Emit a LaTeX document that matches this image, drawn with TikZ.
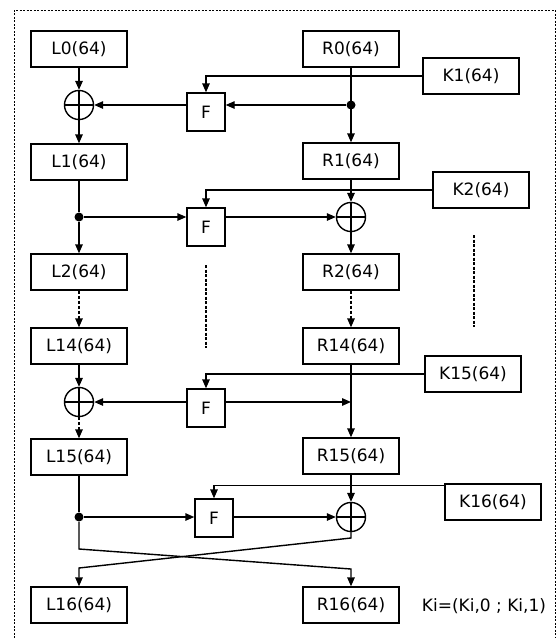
\documentclass[tikz,border=0pt]{standalone}
\usepackage{fontspec}
\setmainfont{DejaVu Sans}
\usetikzlibrary{arrows.meta}

\tikzset{
  box/.style={draw, rectangle, minimum width=96pt, minimum height=36pt, inner sep=0pt},
  ffun/.style={draw, rectangle, minimum width=38pt, minimum height=38pt, inner sep=0pt},
  xor/.style={draw, circle, minimum size=29pt, inner sep=0pt,
    path picture={\draw (path picture bounding box.north) -- (path picture bounding box.south)
                        (path picture bounding box.west) -- (path picture bounding box.east);}},
  dot/.style={circle, fill, inner sep=0pt, minimum size=9pt},
  arr/.style={-{Triangle[length=9pt,width=7.5pt]}},
  darr/.style={arr, dash pattern=on 3pt off 2pt},
  vdots/.style={dash pattern=on 3pt off 1.5pt},
}

\begin{document}
\begin{tikzpicture}[x=1pt, y=-1pt, line width=1.4pt, font=\fontsize{17}{20}\selectfont]
    \useasboundingbox (0,0) rectangle (558,638);
    \draw[line width=1pt, dash pattern=on 2pt off 1.5pt] (14,638) -- (14,10) -- (555,10) -- (555,638);

    % left half
    \node[box] (L0) at (79,49) {L0(64)};
    \node[xor] (X1) at (79,105) {};
    \node[box] (L1) at (79,162) {L1(64)};
    \node[dot] (D2) at (79,217) {};
    \node[box] (L2) at (79,272) {L2(64)};
    \node[box] (L14) at (79,346) {L14(64)};
    \node[xor] (X15) at (79,402) {};
    \node[box] (L15) at (79,457) {L15(64)};
    \node[dot] (D16) at (79,517) {};
    \node[box] (L16) at (79,605) {L16(64)};

    % right half
    \node[box] (R0) at (351,49) {R0(64)};
    \node[dot] (D1) at (351,105) {};
    \node[box] (R1) at (351,161) {R1(64)};
    \node[xor] (X2) at (351,217) {};
    \node[box] (R2) at (351,272) {R2(64)};
    \node[box] (R14) at (351,346) {R14(64)};
    \coordinate (J15) at (351,402);
    \node[box] (R15) at (351,456) {R15(64)};
    \node[xor] (X16) at (351,517) {};
    \node[box] (R16) at (351,605) {R16(64)};

    % round functions and keys
    \node[ffun] (F1) at (206,112) {F};
    \node[ffun] (F2) at (206,227) {F};
    \node[ffun] (F15) at (206,408) {F};
    \node[ffun] (F16) at (214,518) {F};
    \node[box] (K1) at (471,76) {K1(64)};
    \node[box] (K2) at (481,190) {K2(64)};
    \node[box] (K15) at (473,374) {K15(64)};
    \node[box] (K16) at (493,502) {K16(64)};

    % round 1
    \draw[arr] (L0) -- (X1);
    \draw[arr] (X1) -- (L1);
    \draw[arr] (R0) -- (R1);
    \draw[arr] (D1) -- (D1 -| F1.east);
    \draw[arr] (F1.west |- X1) -- (X1);
    \draw[arr] (K1.west) -| (F1.north);

    % round 2
    \draw (L1) -- (D2);
    \draw[arr] (D2) -- (L2);
    \draw[arr] (D2) -- (D2 -| F2.west);
    \draw[arr] (F2.east |- X2) -- (X2);
    \draw[arr] (R1) -- (X2);
    \draw[arr] (X2) -- (R2);
    \draw[arr] (K2.west) -| (F2.north);

    % skipped rounds
    \draw[darr] (L2) -- (L14);
    \draw[darr] (R2) -- (R14);
    \draw[vdots] (206,265) -- (206,348);
    \draw[vdots] (474,235) -- (474,327);

    % round 15
    \draw[arr] (L14) -- (X15);
    \draw[darr] (X15) -- (L15);
    \draw[arr] (R14) -- (R15);
    \draw[arr] (F15.west |- X15) -- (X15);
    \draw[arr] (F15.east |- J15) -- (J15);
    \draw[arr] (K15.west) -| (F15.north);

    % round 16
    \draw (L15) -- (D16);
    \draw[arr] (D16) -- (D16 -| F16.west);
    \draw[arr] (F16.east |- X16) -- (X16);
    \draw[arr] (R15) -- (X16);
    \draw[arr] ([yshift=-2pt]K16.north west) -| (F16.north);

    % final swap
    \coordinate (A1) at (79,549);
    \coordinate (A2) at (351,569);
    \coordinate (B1) at (351,538);
    \coordinate (B2) at (79,568);
    \draw[arr] (D16) -- (A1) -- (A2) -- (R16);
    \draw[arr] (X16) -- (B1) -- (B2) -- (L16);

    \node (note) at (484,606) {Ki=(Ki,0 ; Ki,1)};
\end{tikzpicture}
\end{document}
